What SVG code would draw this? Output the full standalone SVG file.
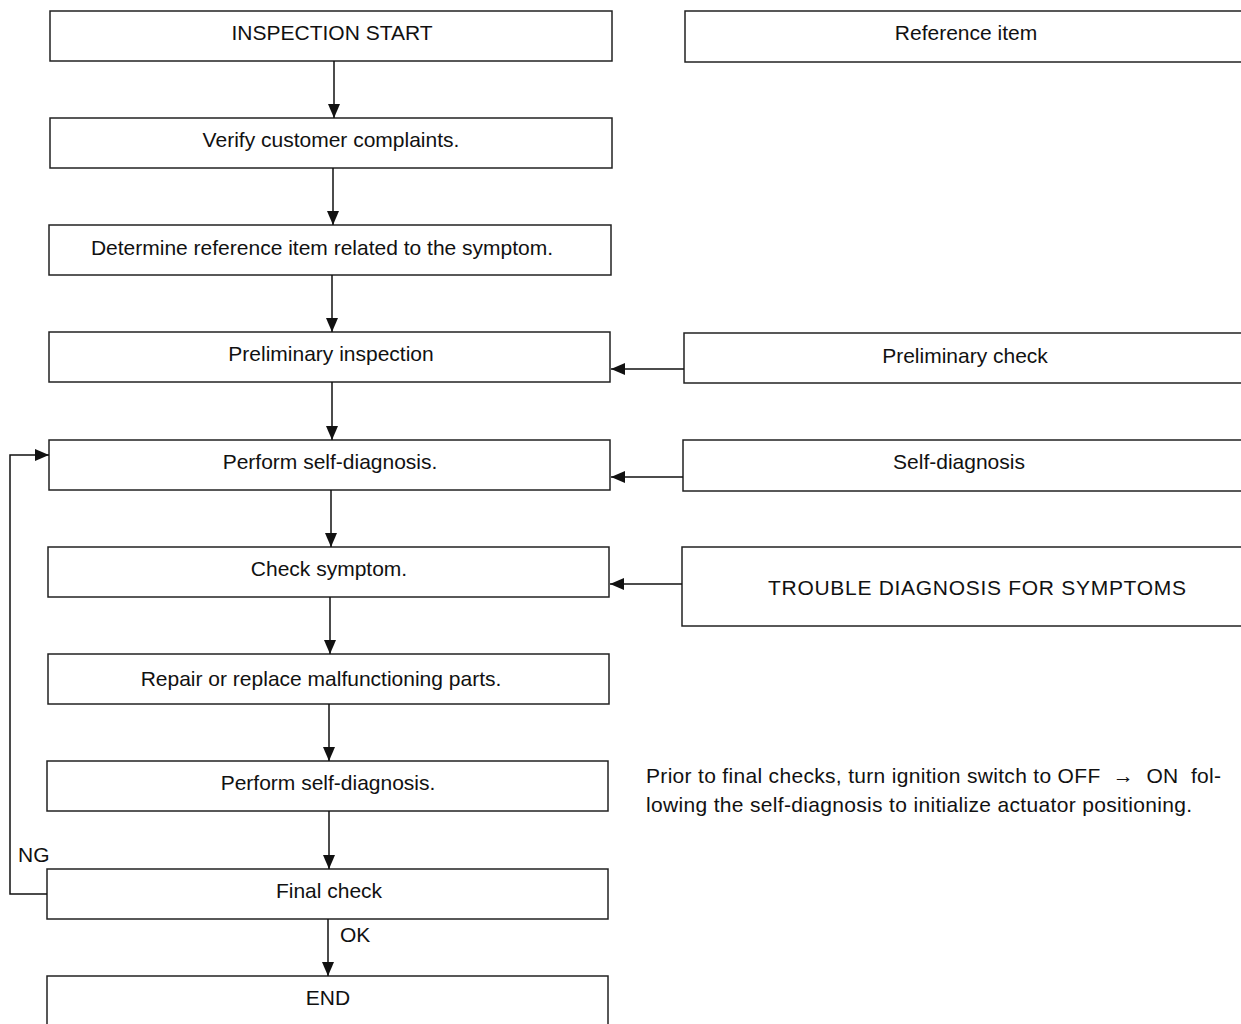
<svg xmlns="http://www.w3.org/2000/svg" width="1241" height="1024" viewBox="0 0 1241 1024">
<style>
.box{fill:#fff;stroke:#222;stroke-width:1.5}
.t{font-family:"Liberation Sans",Arial,sans-serif;font-size:21px;fill:#111;text-anchor:middle}
.n{font-family:"Liberation Sans",Arial,sans-serif;font-size:21px;fill:#111}
.c{fill:none;stroke:#111;stroke-width:1.5}
</style>
<defs>
<marker id="ahv" viewBox="0 0 14 12" refX="14" refY="6" markerWidth="14" markerHeight="12" markerUnits="userSpaceOnUse" orient="auto">
<path d="M0,0 L14,6 L0,12 z" fill="#111"/>
</marker>
</defs>
<rect width="1241" height="1024" fill="#fff"/>
<g id="n1"><rect class="box" x="50" y="11" width="562" height="50"/><text class="t" x="332" y="40">INSPECTION START</text></g>
<g id="n2"><rect class="box" x="50" y="118" width="562" height="50"/><text class="t" x="331" y="147">Verify customer complaints.</text></g>
<g id="n3"><rect class="box" x="49" y="225" width="562" height="50"/><text class="t" x="322" y="255">Determine reference item related to the symptom.</text></g>
<g id="n4"><rect class="box" x="49" y="332" width="561" height="50"/><text class="t" x="331" y="361">Preliminary inspection</text></g>
<g id="n5"><rect class="box" x="49" y="440" width="561" height="50"/><text class="t" x="330" y="469">Perform self-diagnosis.</text></g>
<g id="n6"><rect class="box" x="48" y="547" width="561" height="50"/><text class="t" x="329" y="576">Check symptom.</text></g>
<g id="n7"><rect class="box" x="48" y="654" width="561" height="50"/><text class="t" x="321" y="686">Repair or replace malfunctioning parts.</text></g>
<g id="n8"><rect class="box" x="47" y="761" width="561" height="50"/><text class="t" x="328" y="790">Perform self-diagnosis.</text></g>
<g id="n9"><rect class="box" x="47" y="869" width="561" height="50"/><text class="t" x="329" y="898">Final check</text></g>
<g id="n10"><rect class="box" x="47" y="976" width="561" height="60"/><text class="t" x="328" y="1005">END</text></g>
<g id="r1"><rect class="box" x="685" y="11" width="600" height="51"/><text class="t" x="966" y="40">Reference item</text></g>
<g id="r2"><rect class="box" x="684" y="333" width="600" height="50"/><text class="t" x="965" y="363">Preliminary check</text></g>
<g id="r3"><rect class="box" x="683" y="440" width="600" height="51"/><text class="t" x="959" y="469">Self-diagnosis</text></g>
<g id="r4"><rect class="box" x="682" y="547" width="600" height="79"/><text class="t" x="977" y="595" textLength="418" lengthAdjust="spacing">TROUBLE DIAGNOSIS FOR SYMPTOMS</text></g>
<g id="note"><text class="n" x="646" y="783" textLength="575" lengthAdjust="spacing" xml:space="preserve">Prior to final checks, turn ignition switch to OFF  →  ON  fol-</text><text class="n" x="646" y="812" textLength="546" lengthAdjust="spacing">lowing the self-diagnosis to initialize actuator positioning.</text></g>
<g id="connectors">
<line class="c" x1="334" y1="61" x2="334" y2="118" marker-end="url(#ahv)"/>
<line class="c" x1="333" y1="168" x2="333" y2="225" marker-end="url(#ahv)"/>
<line class="c" x1="332" y1="275" x2="332" y2="332" marker-end="url(#ahv)"/>
<line class="c" x1="332" y1="382" x2="332" y2="440" marker-end="url(#ahv)"/>
<line class="c" x1="331" y1="490" x2="331" y2="547" marker-end="url(#ahv)"/>
<line class="c" x1="330" y1="597" x2="330" y2="654" marker-end="url(#ahv)"/>
<line class="c" x1="329" y1="704" x2="329" y2="761" marker-end="url(#ahv)"/>
<line class="c" x1="329" y1="811" x2="329" y2="869" marker-end="url(#ahv)"/>
<line class="c" x1="328" y1="919" x2="328" y2="976" marker-end="url(#ahv)"/>
<line class="c" x1="684" y1="369" x2="611" y2="369" marker-end="url(#ahv)"/>
<line class="c" x1="683" y1="477" x2="611" y2="477" marker-end="url(#ahv)"/>
<line class="c" x1="682" y1="584" x2="610" y2="584" marker-end="url(#ahv)"/>
<polyline class="c" points="47,894 10,894 10,455 49,455" marker-end="url(#ahv)"/>
<text class="n" x="18" y="862">NG</text>
<text class="n" x="340" y="942">OK</text>
</g>
</svg>
